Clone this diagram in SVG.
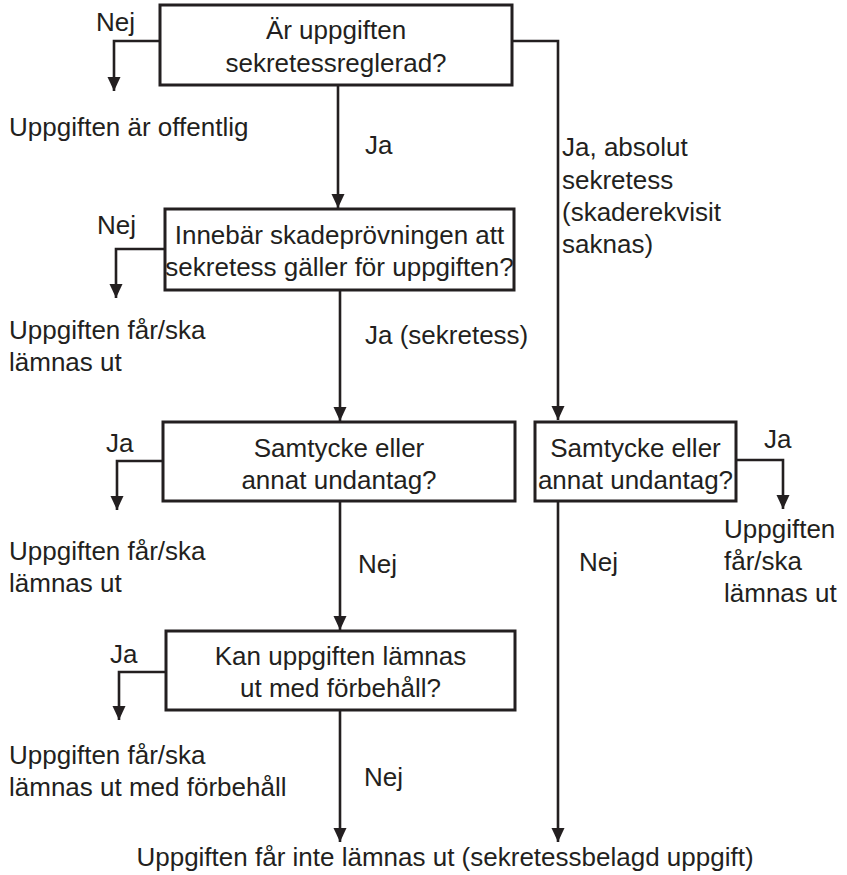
<svg xmlns="http://www.w3.org/2000/svg" width="847" height="875" viewBox="0 0 847 875">
<style>
text{font-family:"Liberation Sans",Arial,sans-serif;font-size:26px;fill:#231f20}
.c{text-anchor:middle}
.box{fill:#fff;stroke:#231f20;stroke-width:3}
.ln{fill:none;stroke:#231f20;stroke-width:2.6}
</style>
<defs>
<marker id="ah" viewBox="0 0 14 14" refX="14" refY="7" markerWidth="14" markerHeight="14" markerUnits="userSpaceOnUse" orient="auto">
<path d="M0,0.5 L14,7 L0,13.5 Z" fill="#231f20"/>
</marker>
</defs>
<g id="connectors">
<path class="ln" d="M160,41 H114 V91" marker-end="url(#ah)"/>
<path class="ln" d="M512,41 H558 V420" marker-end="url(#ah)"/>
<path class="ln" d="M338,85 V208" marker-end="url(#ah)"/>
<path class="ln" d="M165,249 H116 V298" marker-end="url(#ah)"/>
<path class="ln" d="M340,290 V421" marker-end="url(#ah)"/>
<path class="ln" d="M163,461 H117 V510" marker-end="url(#ah)"/>
<path class="ln" d="M736,460 H783 V509" marker-end="url(#ah)"/>
<path class="ln" d="M340,501 V630" marker-end="url(#ah)"/>
<path class="ln" d="M166,672 H119 V720" marker-end="url(#ah)"/>
<path class="ln" d="M340,710 V842" marker-end="url(#ah)"/>
<path class="ln" d="M558,501 V842" marker-end="url(#ah)"/>
<text x="96" y="31">Nej</text>
<text x="365" y="154">Ja</text>
<text x="562" y="156">Ja, absolut</text>
<text x="562" y="189">sekretess</text>
<text x="562" y="221">(skaderekvisit</text>
<text x="562" y="253">saknas)</text>
<text x="97" y="234">Nej</text>
<text x="365" y="344">Ja (sekretess)</text>
<text x="106" y="452">Ja</text>
<text x="764" y="448">Ja</text>
<text x="358" y="573">Nej</text>
<text x="579" y="571">Nej</text>
<text x="110" y="663">Ja</text>
<text x="364" y="786">Nej</text>
</g>
<g id="n1">
<rect class="box" x="160" y="5" width="352" height="80"/>
<text class="c" x="336" y="39">Är uppgiften</text>
<text class="c" x="336" y="72">sekretessreglerad?</text>
</g>
<g id="r1"><text x="9" y="136">Uppgiften är offentlig</text></g>
<g id="n2">
<rect class="box" x="165" y="209" width="349" height="81"/>
<text class="c" x="339.5" y="244">Innebär skadeprövningen att</text>
<text class="c" x="339.5" y="276">sekretess gäller för uppgiften?</text>
</g>
<g id="r2"><text x="9" y="339">Uppgiften får/ska</text><text x="9" y="371">lämnas ut</text></g>
<g id="n3">
<rect class="box" x="163" y="422" width="352" height="79"/>
<text class="c" x="339" y="457">Samtycke eller</text>
<text class="c" x="339" y="489">annat undantag?</text>
</g>
<g id="r3"><text x="9" y="560">Uppgiften får/ska</text><text x="9" y="592">lämnas ut</text></g>
<g id="n4">
<rect class="box" x="535" y="422" width="201" height="79"/>
<text class="c" x="635.5" y="457">Samtycke eller</text>
<text class="c" x="635.5" y="489">annat undantag?</text>
</g>
<g id="r4"><text x="724" y="538">Uppgiften</text><text x="724" y="570">får/ska</text><text x="724" y="602">lämnas ut</text></g>
<g id="n5">
<rect class="box" x="166" y="631" width="349" height="79"/>
<text class="c" x="340.5" y="665">Kan uppgiften lämnas</text>
<text class="c" x="340.5" y="697">ut med förbehåll?</text>
</g>
<g id="r5"><text x="9" y="764">Uppgiften får/ska</text><text x="9" y="796">lämnas ut med förbehåll</text></g>
<g id="r6"><text class="c" x="445" y="866">Uppgiften får inte lämnas ut (sekretessbelagd uppgift)</text></g>
</svg>
